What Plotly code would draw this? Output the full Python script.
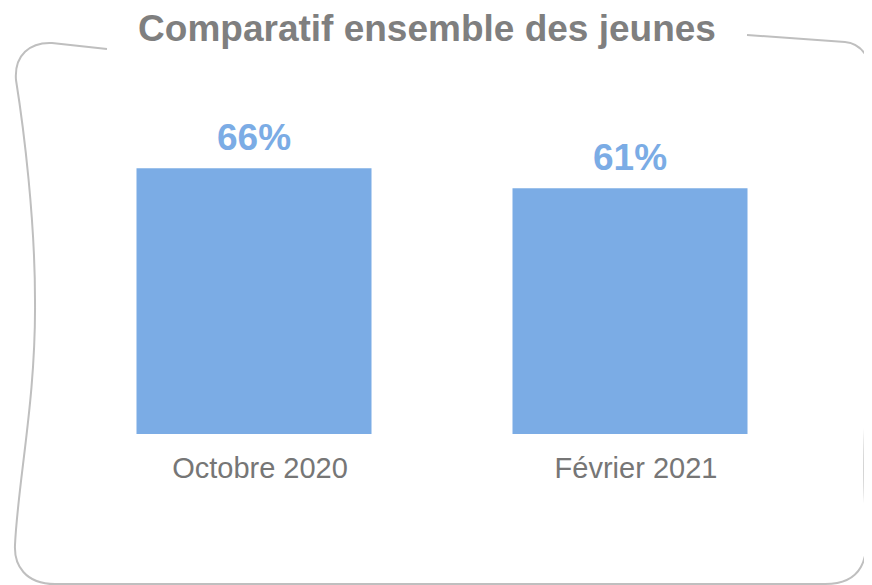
import plotly.graph_objects as go

title_text = "Comparatif ensemble des jeunes"
categories = ["Octobre 2020", "Février 2021"]
values = [66, 61]
value_labels = ["66%", "61%"]

# the page body adds an 8px offset, so the figure is 8px smaller than the window
OFF = 8
W, H = 872 - OFF, 585 - OFF
ML, MR, MT, MB = 58, 54, 124, 151
PW, PH = W - ML - MR, H - MT - MB

BAR_COLOR = "#7BACE5"
GREY = "#7F7F7F"
FONT = "Liberation Sans, Arial, sans-serif"


def px(x):
    return (x - OFF - ML) / PW


def py(y):
    return (H - MB - (y - OFF)) / PH


# hand-drawn frame, in window pixel coordinates converted to paper units
frame_pts = [
    ("M", [(747, 35)]),
    ("L", [(845, 42)]),
    ("C", [(868, 44), (876, 70), (878, 110)]),
    ("C", [(880, 200), (874, 280), (871, 320)]),
    ("C", [(866, 380), (862, 470), (866, 520)]),
    ("C", [(870, 560), (862, 584), (825, 584)]),
    ("L", [(55, 584)]),
    ("C", [(25, 584), (14, 565), (15, 545)]),
    ("C", [(18, 480), (36, 400), (35, 300)]),
    ("C", [(35, 220), (24, 130), (16, 80)]),
    ("C", [(14, 55), (30, 42), (52, 43)]),
    ("L", [(107, 49)]),
]
path = " ".join(
    cmd + " " + " ".join(f"{px(x):.5f},{py(y):.5f}" for x, y in pts)
    for cmd, pts in frame_pts
)

fig = go.Figure(
    go.Bar(
        x=categories,
        y=values,
        width=0.625,
        marker=dict(color=BAR_COLOR, line=dict(width=0)),
        hoverinfo="skip",
    )
)

for c, v, lab in zip(categories, values, value_labels):
    fig.add_annotation(
        x=c, y=v, text=f"<b>{lab}</b>", showarrow=False,
        yanchor="bottom", yshift=8,
        font=dict(family=FONT, size=37, color=BAR_COLOR),
    )

fig.add_shape(
    type="path", path=path, xref="paper", yref="paper",
    line=dict(color="#BFBFBF", width=2), layer="below",
)

fig.update_layout(
    width=W, height=H,
    margin=dict(l=ML, r=MR, t=MT, b=MB),
    paper_bgcolor="white", plot_bgcolor="white",
    showlegend=False,
    title=dict(
        text=f"<b>{title_text}</b>", x=(427 - OFF) / W, xanchor="center",
        y=1 - (28 - OFF) / H, yanchor="middle", yref="container",
        font=dict(family=FONT, size=37, color=GREY),
    ),
    xaxis=dict(
        range=[-0.5, 1.5], showgrid=False, zeroline=False, showline=False,
        ticks="", tickfont=dict(family=FONT, size=29, color="#767676"),
        ticklabelstandoff=14, ticklabelshift=6,
    ),
    yaxis=dict(
        range=[0, 75], showgrid=False, zeroline=False, showline=False,
        showticklabels=False, ticks="",
    ),
)

fig.write_html("out.html")
